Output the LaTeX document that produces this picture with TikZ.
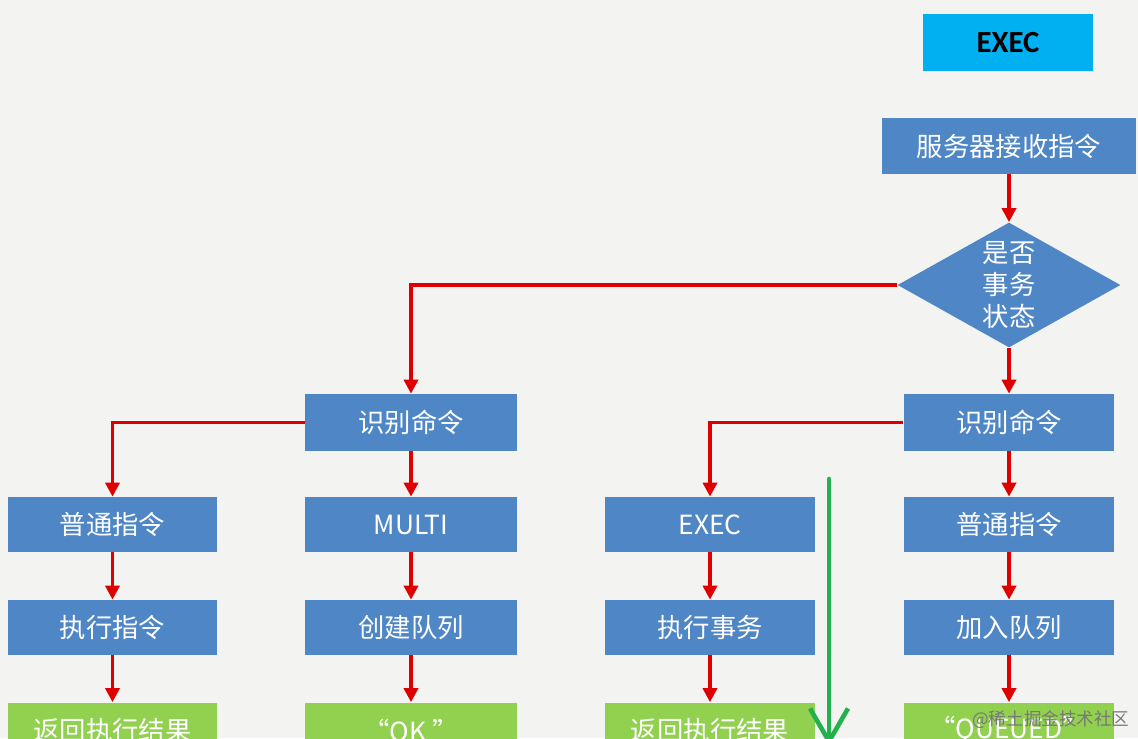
\documentclass[tikz,border=0pt]{standalone}
\usepackage{fontspec}
\newfontfamily\cjkfont{Noto Sans CJK SC}
\newfontfamily\calfont{Carlito}
\usetikzlibrary{shapes.geometric,arrows.meta}
\definecolor{bgc}{RGB}{243,244,242}
\definecolor{boxblue}{RGB}{79,134,198}
\definecolor{boxgreen}{RGB}{146,208,80}
\definecolor{execcyan}{RGB}{0,176,240}
\definecolor{arr}{RGB}{222,0,0}
\definecolor{garr}{RGB}{34,177,76}
\definecolor{wmgray}{RGB}{120,120,120}
\begin{document}
\begin{tikzpicture}[x=0.02cm,y=-0.02cm,
  bluebox/.style={fill=boxblue, text=white, minimum width=4.2cm, minimum height=1.1cm, inner sep=0pt, font=\cjkfont\fontsize{15}{18}\selectfont},
  greenbox/.style={bluebox, fill=boxgreen},
  flow/.style={draw=arr, line width=2pt, -{Triangle[length=0.28cm,width=0.28cm]}}
]
\useasboundingbox (0,0) rectangle (1138,738);
\fill[bgc] (0,0) rectangle (1138,738);
\clip (0,0) rectangle (1138,738);

% top
\node[fill=execcyan, text=black, minimum width=3.4cm, minimum height=1.14cm, inner sep=0pt, font=\calfont\bfseries\fontsize{17.5}{20}\selectfont] (exec) at (1008,42.5) {EXEC};
\node[bluebox, minimum width=5.08cm, minimum height=1.12cm] (srv) at (1009,146) {服务器接收指令};
\node[diamond, fill=boxblue, text=white, aspect=1.78, minimum width=4.46cm, minimum height=2.5cm, inner sep=0pt, align=center, font=\cjkfont\fontsize{15}{18}\selectfont] (dia) at (1009,285) {是否\\事务\\状态};

% identify
\node[bluebox, minimum height=1.14cm, minimum width=4.24cm] (rcL) at (411,422.5) {识别命令};
\node[bluebox, minimum height=1.14cm, minimum width=4.22cm] (rcR) at (1009,422.5) {识别命令};

% row 2
\node[bluebox] (a1) at (112.5,524.5) {普通指令};
\node[bluebox, minimum width=4.24cm] (b1) at (411,524.5) {MULTI};
\node[bluebox] (c1) at (710,524.5) {EXEC};
\node[bluebox, minimum width=4.22cm] (d1) at (1009,524.5) {普通指令};

% row 3
\node[bluebox] (a2) at (112.5,627.5) {执行指令};
\node[bluebox, minimum width=4.24cm] (b2) at (411,627.5) {创建队列};
\node[bluebox] (c2) at (710,627.5) {执行事务};
\node[bluebox, minimum width=4.22cm] (d2) at (1009,627.5) {加入队列};

% row 4
\node[greenbox] (a3) at (112.5,730) {返回执行结果};
\node[greenbox, minimum width=4.24cm] (b3) at (411,730) {“OK ”};
\node[greenbox] (c3) at (710,730) {返回执行结果};
\node[greenbox, minimum width=4.22cm] (d3) at (1009,730) {“QUEUED”};

% connectors
\draw[flow] (srv.south) -- (dia.north);
\draw[flow] (dia.west) -| (rcL.north);
\draw[flow] (dia.south) -- (rcR.north);
\draw[flow] (rcL.west) -| (a1.north);
\draw[flow] (rcL.south) -- (b1.north);
\draw[flow] (rcR.west) -| (c1.north);
\draw[flow] (rcR.south) -- (d1.north);
\foreach \c in {a,b,c,d}{
  \draw[flow] (\c1.south) -- (\c2.north);
  \draw[flow] (\c2.south) -- (\c3.north);
}

% green arrow
\coordinate (gs) at (829,479);
\coordinate (ge) at (829,746);
\draw[draw=garr, line width=2.6pt, line cap=round, -{Straight Barb[length=0.66cm,width=0.76cm]}] (gs) -- (ge);

% watermark
\node[anchor=west, text=wmgray, inner sep=0pt, font=\cjkfont\fontsize{10}{12}\selectfont] (wm) at (972,720) {@稀土掘金技术社区};
\end{tikzpicture}
\end{document}
